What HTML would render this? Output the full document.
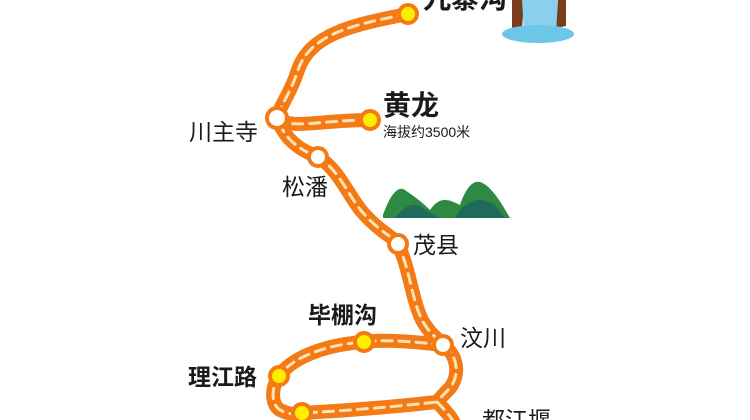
<!DOCTYPE html>
<html><head><meta charset="utf-8"><style>
html,body{margin:0;padding:0;background:#fff;}
svg{display:block}
text{font-family:"Liberation Sans","Noto Sans CJK SC",sans-serif;fill:#1a1a1a}
.b{font-weight:bold}
</style></head><body>
<svg width="750" height="420" viewBox="0 0 750 420">
<g fill="none" stroke-linecap="round" stroke-linejoin="round">
<g stroke="#f47a16" stroke-width="14">
<path id="p1" d="M408,14 C350,25 310,35 298,70 C290,95 280,105 277,118 C285,140 300,150 318,157 C340,170 350,200 365,215 C380,232 395,238 398,244 C410,270 412,300 422,320 C430,335 440,340 443,345"/>
<path id="p2" d="M277,118 C290,130 320,120 370,120"/>
<path id="p3" d="M443,345 C400,340 380,340 364,342 C320,345 290,360 279,376 C270,390 272,405 280,410 C290,415 300,415 302,413 C360,410 410,405 437,402"/>
<path id="p4" d="M443,345 C458,355 460,375 450,388 C440,398 437,402 437,402 C445,410 452,418 455,425"/>
</g>
<g stroke="#fde2b4" stroke-width="3" stroke-dasharray="10 7">
<use href="#p1"/><use href="#p2"/><use href="#p3"/><use href="#p4"/>
</g>
</g>
<g stroke="#f47a16" stroke-width="4">
<circle cx="408" cy="14" r="9" fill="#ffee00"/>
<circle cx="370" cy="120" r="9" fill="#ffee00"/>
<circle cx="277" cy="118" r="10" fill="#fff"/>
<circle cx="318" cy="157" r="9" fill="#fff"/>
<circle cx="398" cy="244" r="9" fill="#fff"/>
<circle cx="443" cy="345" r="9" fill="#fff"/>
<circle cx="364" cy="342" r="9" fill="#ffee00"/>
<circle cx="279" cy="376" r="9" fill="#ffee00"/>
<circle cx="302" cy="413" r="9" fill="#ffee00"/>
</g>
<path d="M512,0 L512,28 L522,30 L524,0Z" fill="#7a3d1c"/>
<path d="M558,0 L556,28 L566,26 L566,0Z" fill="#7a3d1c"/>
<path d="M522,0 L524,32 L556,32 L558,0Z" fill="#8ad0ec"/>
<ellipse cx="538" cy="34" rx="36" ry="9" fill="#6cc6e8"/>
<path d="M383,215 C390,195 398,185 405,190 C412,195 420,200 430,210 C440,195 450,200 460,205 C465,190 472,180 480,182 C490,185 500,200 510,218 L383,218Z" fill="#2e8a42"/>
<path d="M395,218 C405,205 415,200 425,210 L440,218Z M455,218 C465,200 480,195 495,205 L505,218Z" fill="#1f6a5a"/>
<text x="423" y="8" class="b" font-size="28">九寨沟</text>
<text x="383" y="115" class="b" font-size="28">黄龙</text>
<text x="383" y="137" font-size="14">海拔约3500米</text>
<text x="189" y="140" font-size="23">川主寺</text>
<text x="282" y="195" font-size="23">松潘</text>
<text x="413" y="253" font-size="23">茂县</text>
<text x="460" y="346" font-size="23">汶川</text>
<text x="308" y="323" class="b" font-size="23">毕棚沟</text>
<text x="188" y="385" class="b" font-size="23">理江路</text>
<text x="482" y="428" font-size="23">都江堰</text>
</svg>
</body></html>
